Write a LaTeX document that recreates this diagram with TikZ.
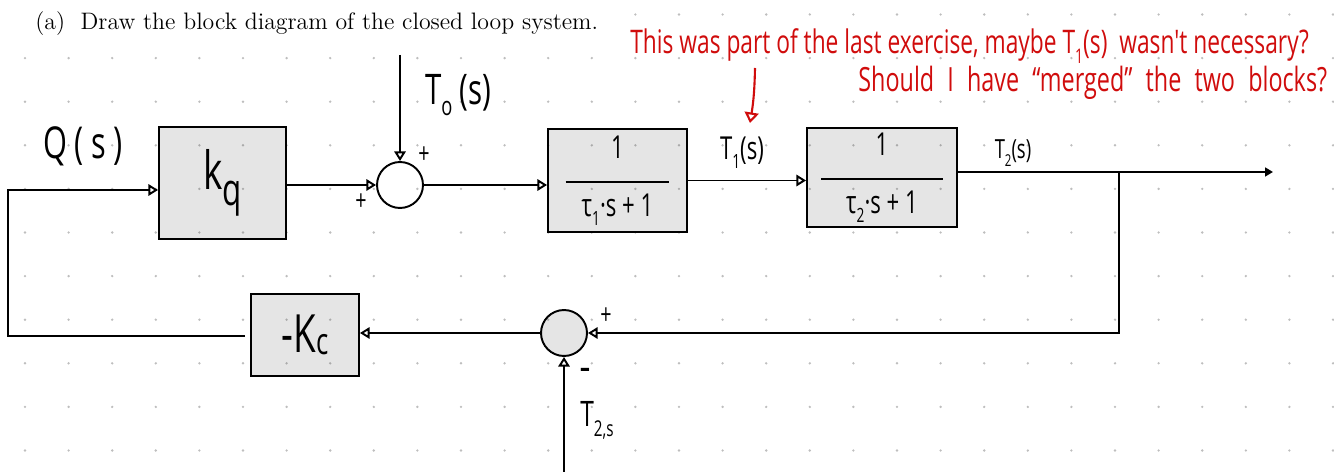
\documentclass[tikz,border=0pt]{standalone}
\usepackage{fontspec}
\usetikzlibrary{arrows.meta,calc}
\newfontfamily\hand[FakeStretch=0.7]{Open Sans}
\newcommand{\hsub}[1]{\raisebox{-0.28em}{\scalebox{0.62}{#1}}}
\newcommand{\hfs}[1]{\fontsize{#1}{#1}\selectfont}
\definecolor{penred}{RGB}{208,12,12}
\definecolor{dotgray}{RGB}{190,190,190}
\begin{document}
\begin{tikzpicture}[x=0.02cm,y=-0.02cm,
  blk/.style={draw=black, line width=1.1pt, fill=black, fill opacity=0.1, text opacity=1, inner sep=0pt, align=center},
  sumc/.style={draw=black, line width=1.1pt, circle, inner sep=0pt, minimum size=0.92cm},
  wire/.style={line width=1.1pt},
  tip/.style={wire, -{Triangle[open, length=5.5pt, width=6.5pt]}},
  hw/.style={font=\hand, inner sep=0pt},
  red/.style={hw, text=penred}]
\useasboundingbox (0,0) rectangle (1334,472);
% dot grid
\foreach \i in {0,...,30}{\foreach \j in {1,...,10}{\fill[dotgray] (25+43.6*\i,14.5+43.6*\j) circle (0.75pt);}}
\foreach \i in {14,...,30}{\fill[dotgray] (25+43.6*\i,14.5) circle (0.75pt);}
% title
\node[anchor=base west, inner sep=0pt, font=\fontsize{13.55}{15}\selectfont] (title) at (35,30) {(a)\ \ Draw the block diagram of the closed loop system.};
% red annotation
\node[red, anchor=base west, font=\hand\hfs{18.5}] (note1) at (630,54) {This was part of the last exercise, maybe T\hsub{1}(s) \ wasn't necessary?};
\node[red, anchor=base west, font=\hand\hfs{19}] (note2) at (858,92) {\spaceskip 7.5pt Should I have “merged” the two blocks?};
\coordinate (ra) at (755,68);
\coordinate (rb) at (750,123);
\draw[penred, line width=1.2pt, -{Triangle[open, length=6pt, width=8pt]}] (ra) to[bend left=4] (rb);
% blocks
\node[blk, font=\hand\hfs{30}, minimum width=2.54cm, minimum height=2.24cm] (kq) at (222.5,183) {k\raisebox{-0.3em}{\scalebox{0.85}{q}}};
\node[sumc] (s1) at (400,185) {};
\node[blk, font=\hand\hfs{18}, minimum width=2.78cm, minimum height=2.06cm] (b1) at (617.5,180.5)
  {1\\[-4pt]\rule{59pt}{0.9pt}\\[1pt]τ\hsub{1}·s + 1};
\node[blk, font=\hand\hfs{18}, minimum width=3.0cm, minimum height=1.98cm] (b2) at (882,177.5)
  {1\\[-4pt]\rule{69pt}{0.9pt}\\[1pt]τ\hsub{2}·s + 1};
\node[blk, font=\hand\hfs{30}, minimum width=2.16cm, minimum height=1.64cm] (kc) at (305,335) {-K\raisebox{-0.05em}{\scalebox{0.7}{c}}};
\node[sumc, fill=black, fill opacity=0.1] (s2) at (564,333) {};
% labels
\node[hw, font=\hand\hfs{25}] (lq) at (83,146) {Q\,(\,s\,)};
\node[hw, font=\hand\hfs{24}] (l0) at (458,95) {T\hsub{o}\,(s)};
\node[hw, font=\hand\hfs{18}] (l1) at (742,153) {T\hsub{1}(s)};
\node[hw, font=\hand\hfs{15}] (l2) at (1013,153) {T\hsub{2}(s)};
\node[hw, font=\hand\hfs{20}] (l2s) at (597,420) {T\hsub{2,s}};
\node[hw, font=\hand\hfs{16}] (p1) at (424,155) {+};
\node[hw, font=\hand\hfs{16}] (p2) at (361,202) {+};
\node[hw, font=\hand\hfs{16}] (p3) at (606,316) {+};
\node[hw, font=\hand\bfseries\hfs{16}] (m1) at (585,373) {–};
% connectors
\coordinate (t0) at (400,55);
\coordinate (out) at (1273,172);
\coordinate (br) at (1119,172);
\coordinate (t2s) at (564,472);
\coordinate (kl) at (245,336);
\coordinate (fb) at (8,336);
\coordinate (fbk) at (8,190);
\draw[tip] (t0) -- (s1.north);
\draw[tip] (kq.east |- s1.west) -- (s1.west);
\draw[tip] (s1.east) -- (s1.east -| b1.west);
\draw[tip] (b1.east) -- (b1.east -| b2.west);
\draw[wire, -{Triangle[length=4.5pt, width=5pt]}] (b2.east |- out) -- (out);
\draw[tip] (br) |- (s2.east);
\draw[tip] (t2s) -- (s2.south);
\draw[tip] (s2.west) -- (s2.west -| kc.east);
\draw[tip] (kl) -- (fb) -- (fbk) -- (fbk -| kq.west);
\end{tikzpicture}
\end{document}
